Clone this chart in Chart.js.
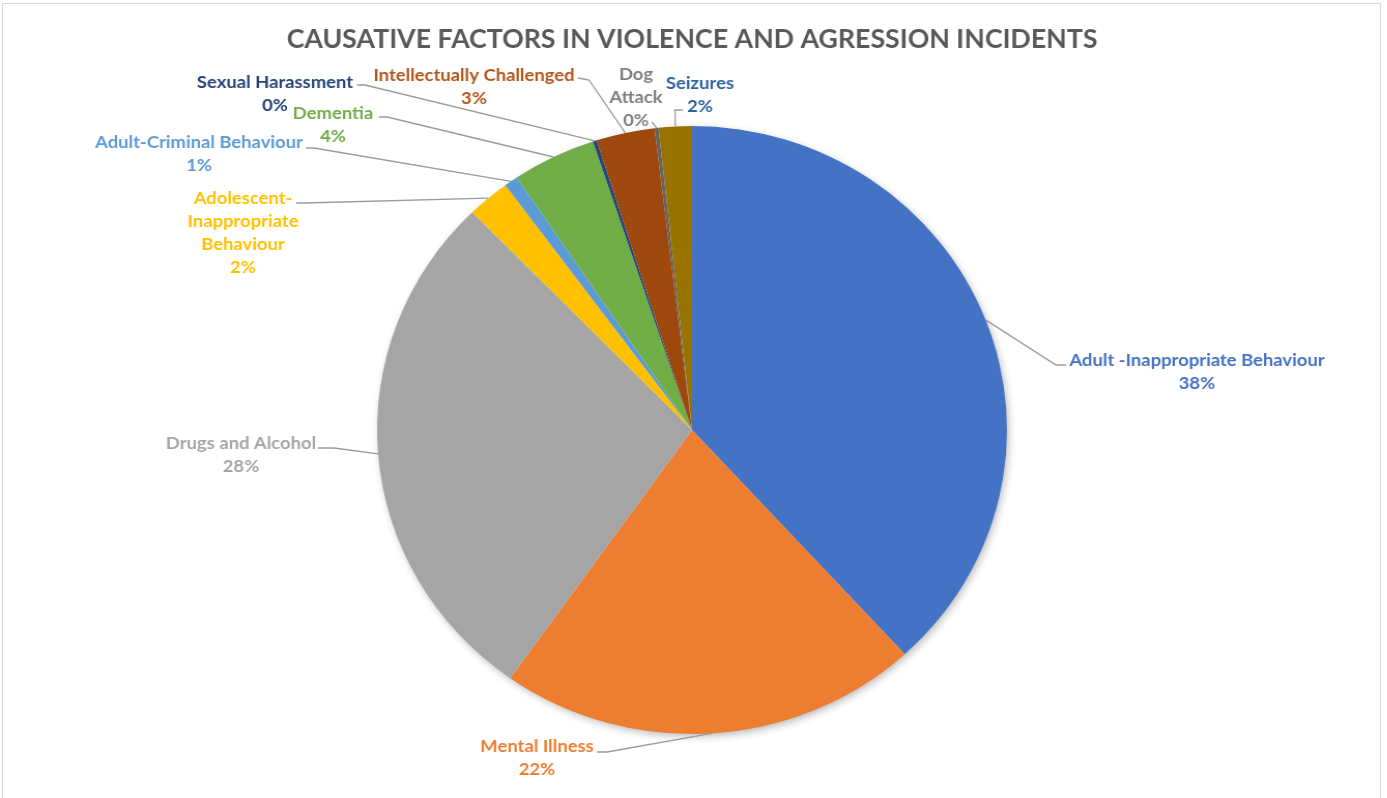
<!DOCTYPE html>
<html>
<head>
<meta charset="utf-8">
<title>Causative factors</title>
<script src="https://cdn.jsdelivr.net/npm/chart.js@4.4.0/dist/chart.umd.min.js"></script>
<style>
  html, body { margin: 0; padding: 0; background: #fff; overflow: hidden; }
  #frame { position: absolute; left: 2px; top: 3px; width: 1379px; height: 820px; border: 1px solid #d9d9d9; box-sizing: border-box; }
  #wrap { position: absolute; left: 0; top: 0; width: 1339px; height: 798px; transform: scaleX(1.036); transform-origin: 0 0; }
</style>
</head>
<body>
<div id="frame"></div>
<div id="wrap"><canvas id="pie" width="1339" height="798"></canvas></div>
<script>
// picture is a little wider than tall, so the canvas is stretched a bit in x
const SX = 1.036;

const chartTitle = 'CAUSATIVE FACTORS IN VIOLENCE AND AGRESSION INCIDENTS';

const categories = [
  'Adult -Inappropriate Behaviour',
  'Mental Illness',
  'Drugs and Alcohol',
  'Adolescent-Inappropriate Behaviour',
  'Adult-Criminal Behaviour',
  'Dementia',
  'Sexual Harassment',
  'Intellectually Challenged',
  'Dog Attack',
  'Seizures'
];

// share of incidents (%)
const values = [38.2, 21.6, 27.9, 2.2, 0.7, 4.3, 0.2, 3.0, 0.2, 1.7];

const sliceColours = ['#4472C4', '#ED7D31', '#A5A5A5', '#FFC000', '#5B9BD5',
                      '#70AD47', '#264478', '#9E480E', '#636363', '#997300'];
const textColours  = ['#4472C4', '#ED7D31', '#A5A5A5', '#FFC000', '#5B9BD5',
                      '#70AD47', '#264478', '#B4561A', '#7F7F7F', '#2E64A0'];

// how the long names wrap in the picture
const wrapped = {
  'Adolescent-Inappropriate Behaviour': ['Adolescent-', 'Inappropriate', 'Behaviour'],
  'Dog Attack': ['Dog', 'Attack']
};

// label placement in page pixels: text centre x, first line y, line start, elbow
const labelSpots = [
  { x: 1197, y: 360, a: [1066, 365], e: [1056, 365] },
  { x: 537,  y: 746, a: [597, 752],  e: [607, 752] },
  { x: 241,  y: 443, a: [318, 448],  e: [334, 448] },
  { x: 243,  y: 198, a: [296, 203],  e: [304, 203] },
  { x: 199,  y: 142, a: [306, 148],  e: [314, 148] },
  { x: 333,  y: 113, a: [379, 117],  e: [387, 117] },
  { x: 275,  y: 82,  a: [357, 85],   e: [365, 85] },
  { x: 474,  y: 75,  a: [578, 78],   e: [589, 80] },
  { x: 636,  y: 74,  a: [652, 122],  e: null },
  { x: 700,  y: 83,  a: [683, 110],  e: [675, 110] }
];

const lineGap = 23;

const pieLabels = {
  id: 'pieLabels',
  beforeDatasetsDraw(chart) {
    // soft drop shadow under the whole pie
    const first = chart.getDatasetMeta(0).data[0];
    const ctx = chart.ctx;
    ctx.save();
    ctx.shadowColor = 'rgba(0,0,0,0.30)';
    ctx.shadowBlur = 8;
    ctx.shadowOffsetX = 2;
    ctx.shadowOffsetY = 3;
    ctx.fillStyle = '#fff';
    ctx.beginPath();
    ctx.arc(first.x, first.y, first.outerRadius - 1, 0, Math.PI * 2);
    ctx.fill();
    ctx.restore();
  },
  afterDraw(chart) {
    const ctx = chart.ctx;
    const meta = chart.getDatasetMeta(0);
    const total = values.reduce((s, v) => s + v, 0);

    ctx.save();
    ctx.textAlign = 'center';
    ctx.textBaseline = 'middle';

    // title, sized to span the same width as in the picture
    ctx.font = 'bold 100px Lato';
    let t = 100 * (811 / SX) / ctx.measureText(chartTitle).width;
    ctx.font = 'bold ' + t.toFixed(1) + 'px Lato';
    ctx.fillStyle = '#595959';
    ctx.fillText(chartTitle, 692 / SX, 40);

    // label font fitted on the longest one-line label
    ctx.font = 'bold 100px Lato';
    let f = 100 * (255 / SX) / ctx.measureText(categories[0]).width;
    const labelFont = 'bold ' + f.toFixed(1) + 'px Lato';

    meta.data.forEach((arc, i) => {
      const spot = labelSpots[i];
      const mid = (arc.startAngle + arc.endAngle) / 2;
      const ex = arc.x + Math.cos(mid) * arc.outerRadius;
      const ey = arc.y + Math.sin(mid) * arc.outerRadius;

      ctx.strokeStyle = '#9A9A9A';
      ctx.lineWidth = 1.3;
      ctx.beginPath();
      ctx.moveTo(spot.a[0] / SX, spot.a[1]);
      if (spot.e) ctx.lineTo(spot.e[0] / SX, spot.e[1]);
      ctx.lineTo(ex, ey);
      ctx.stroke();

      const lines = (wrapped[categories[i]] || [categories[i]]).slice();
      lines.push(Math.round(values[i] / total * 100) + '%');
      ctx.font = labelFont;
      ctx.fillStyle = textColours[i];
      lines.forEach((ln, k) => {
        ctx.fillText(ln, spot.x / SX, spot.y + k * lineGap);
      });
    });
    ctx.restore();
  }
};

new Chart(document.getElementById('pie'), {
  type: 'pie',
  data: {
    labels: categories,
    datasets: [{
      data: values,
      backgroundColor: sliceColours,
      borderWidth: 0,
      hoverOffset: 0,
      offset: 0
    }]
  },
  options: {
    responsive: false,
    animation: false,
    devicePixelRatio: 1,
    layout: { padding: { left: 364, right: 367, top: 126, bottom: 64 } },
    plugins: {
      legend: { display: false },
      tooltip: { enabled: false },
      title: { display: false }
    }
  },
  plugins: [pieLabels]
});
</script>
</body>
</html>
